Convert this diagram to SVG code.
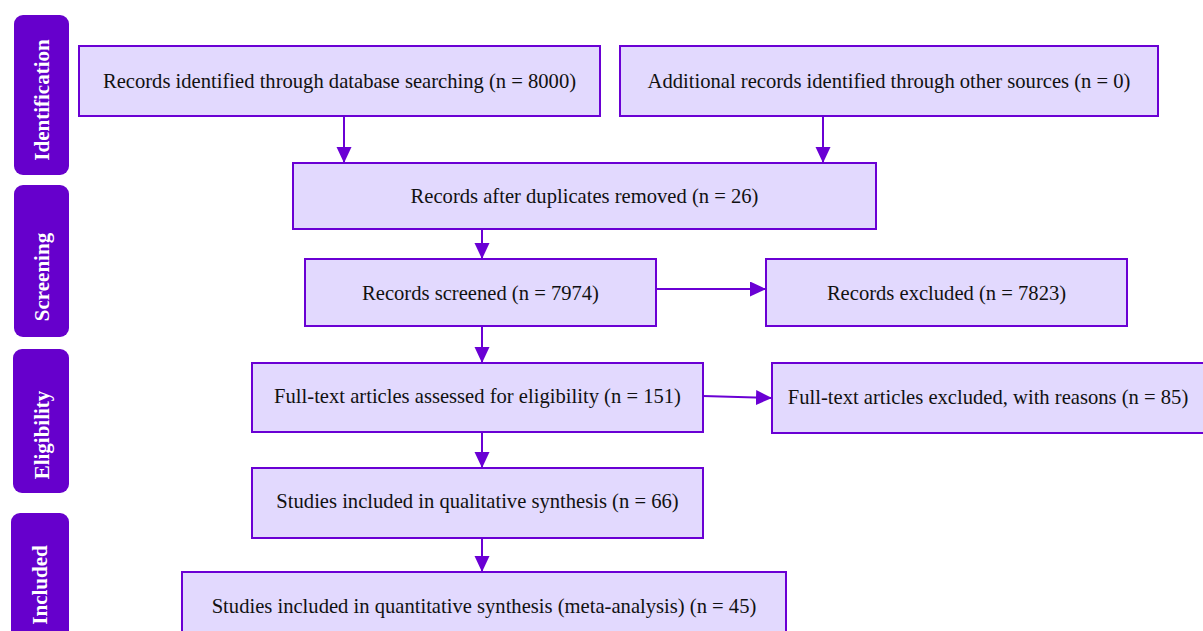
<svg xmlns="http://www.w3.org/2000/svg" width="1203" height="631" viewBox="0 0 1203 631">
<style>
.box{fill:#E2D9FE;stroke:#6A00D4;stroke-width:2}
.lbl{font-family:"Liberation Serif","Times New Roman",serif;font-size:20.6px;fill:#111;text-anchor:middle}
.side{fill:#6600CC}
.stxt{font-family:"Liberation Serif","Times New Roman",serif;font-size:21px;font-weight:bold;fill:#fff;text-anchor:middle}
.edge{stroke:#6A00D4;stroke-width:2;fill:none;marker-end:url(#ah)}
</style>
<defs>
<marker id="ah" markerUnits="userSpaceOnUse" markerWidth="16" markerHeight="16" refX="16" refY="7.5" orient="auto">
<path d="M0,0 L16,7.5 L0,15 z" fill="#6A00D4"/>
</marker>
</defs>
<rect width="1203" height="631" fill="#fff"/>
<g id="phase-identification"><rect class="side" x="14" y="15" width="55" height="160" rx="9"/><text class="stxt" transform="translate(49,100) rotate(-90)">Identification</text></g>
<g id="phase-screening"><rect class="side" x="14" y="185" width="55" height="152" rx="9"/><text class="stxt" transform="translate(49,277) rotate(-90)">Screening</text></g>
<g id="phase-eligibility"><rect class="side" x="13" y="349" width="56" height="144" rx="9"/><text class="stxt" transform="translate(49,435) rotate(-90)">Eligibility</text></g>
<g id="phase-included"><rect class="side" x="11" y="513" width="58" height="140" rx="9"/><text class="stxt" transform="translate(47,585) rotate(-90)">Included</text></g>
<g id="connectors">
<line class="edge" x1="344" y1="116" x2="344" y2="163"/>
<line class="edge" x1="823" y1="116" x2="823" y2="163"/>
<line class="edge" x1="482" y1="229" x2="482" y2="259"/>
<line class="edge" x1="656" y1="289" x2="766" y2="289"/>
<line class="edge" x1="482" y1="326" x2="482" y2="363"/>
<line class="edge" x1="703" y1="396" x2="772" y2="398"/>
<line class="edge" x1="482" y1="432" x2="482" y2="468"/>
<line class="edge" x1="482" y1="538" x2="482" y2="572"/>
</g>
<g id="n-db"><rect class="box" x="79" y="46" width="521" height="70"/><text class="lbl" x="339.5" y="88">Records identified through database searching (n = 8000)</text></g>
<g id="n-other"><rect class="box" x="620" y="46" width="538" height="70"/><text class="lbl" x="889" y="88">Additional records identified through other sources (n = 0)</text></g>
<g id="n-dup"><rect class="box" x="293" y="163" width="583" height="66"/><text class="lbl" x="584.5" y="203">Records after duplicates removed (n = 26)</text></g>
<g id="n-screened"><rect class="box" x="305" y="259" width="351" height="67"/><text class="lbl" x="480.5" y="300">Records screened (n = 7974)</text></g>
<g id="n-excluded"><rect class="box" x="766" y="259" width="361" height="67"/><text class="lbl" x="946.5" y="300">Records excluded (n = 7823)</text></g>
<g id="n-fulltext"><rect class="box" x="252" y="363" width="451" height="69"/><text class="lbl" x="477.5" y="403">Full-text articles assessed for eligibility (n = 151)</text></g>
<g id="n-ftexcluded"><rect class="box" x="772" y="363" width="432" height="70"/><text class="lbl" x="988" y="404">Full-text articles excluded, with reasons (n = 85)</text></g>
<g id="n-qual"><rect class="box" x="252" y="468" width="451" height="70"/><text class="lbl" x="477.5" y="508">Studies included in qualitative synthesis (n = 66)</text></g>
<g id="n-quant"><rect class="box" x="182" y="572" width="604" height="70"/><text class="lbl" x="484" y="613">Studies included in quantitative synthesis (meta-analysis) (n = 45)</text></g>
</svg>
